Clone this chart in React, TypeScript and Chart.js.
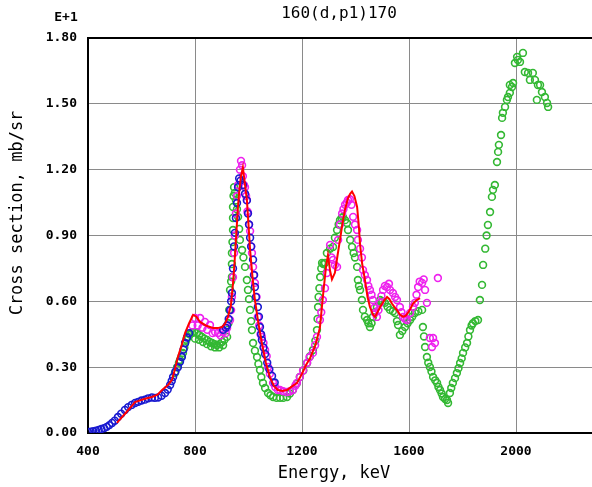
import React, { useEffect, useRef } from "react";
import { Chart, registerables } from "chart.js";

Chart.register(...registerables);

const chartTitle = "160(d,p1)170";
const xAxisTitle = "Energy, keV";
const yAxisTitle = "Cross section, mb/sr";
const yExponent = "E+1";
const xTickValues = [400, 800, 1200, 1600, 2000];
const yTickValues = [0, 0.3, 0.6, 0.9, 1.2, 1.5, 1.8];

// [energy keV, cross section (x10 mb/sr)]
const redCurve: [number, number][] = [
  [508, 0.046], [540, 0.09], [576, 0.141], [610, 0.155], [639, 0.164], [660, 0.175], [677, 0.196],
  [700, 0.22], [714, 0.242], [725, 0.29], [736, 0.346], [750, 0.4], [763, 0.456], [778, 0.5],
  [793, 0.538], [805, 0.53], [819, 0.506], [840, 0.49], [867, 0.479], [885, 0.478], [901, 0.483],
  [913, 0.5], [923, 0.529], [934, 0.58], [942, 0.68], [948, 0.78], [954, 0.9], [960, 1.02],
  [966, 1.11], [972, 1.17], [979, 1.21], [985, 1.15], [994, 1.062], [1000, 0.95], [1006, 0.834],
  [1015, 0.71], [1024, 0.606], [1037, 0.5], [1050, 0.41], [1065, 0.32], [1080, 0.255],
  [1095, 0.215], [1110, 0.196], [1127, 0.192], [1144, 0.196], [1160, 0.21], [1181, 0.228],
  [1200, 0.27], [1215, 0.31], [1230, 0.34], [1250, 0.4], [1267, 0.48], [1278, 0.62], [1290, 0.76],
  [1297, 0.81], [1305, 0.74], [1312, 0.7], [1323, 0.73], [1333, 0.81], [1342, 0.88], [1352, 0.96],
  [1361, 1.02], [1372, 1.07], [1380, 1.09], [1387, 1.1], [1396, 1.08], [1406, 1.03], [1412, 0.95],
  [1417, 0.86], [1425, 0.77], [1435, 0.7], [1445, 0.62], [1454, 0.574], [1465, 0.54], [1473, 0.529],
  [1482, 0.55], [1492, 0.574], [1505, 0.6], [1518, 0.62], [1527, 0.61], [1536, 0.59], [1548, 0.57],
  [1555, 0.56], [1566, 0.54], [1578, 0.529], [1588, 0.535], [1596, 0.547], [1605, 0.565],
  [1615, 0.59], [1628, 0.605], [1641, 0.615],
];

const bluePoints: [number, number][] = [
  [400, 0.005], [410, 0.006], [420, 0.008], [430, 0.01], [440, 0.014], [450, 0.018], [460, 0.022],
  [470, 0.028], [480, 0.036], [490, 0.046], [500, 0.056], [512, 0.073], [524, 0.088], [538, 0.105],
  [550, 0.118], [563, 0.128], [576, 0.137], [588, 0.142], [600, 0.148], [613, 0.152], [625, 0.158],
  [639, 0.162], [650, 0.16], [662, 0.162], [675, 0.17], [688, 0.182], [698, 0.198], [707, 0.219],
  [713, 0.237], [718, 0.255], [727, 0.28], [736, 0.3], [744, 0.325], [751, 0.346], [757, 0.38],
  [763, 0.41], [770, 0.435], [778, 0.455],
  [905, 0.47], [915, 0.48], [920, 0.49], [926, 0.52], [931, 0.56], [935, 0.6], [938, 0.638],
  [942, 0.75], [946, 0.85], [949, 0.912], [953, 0.98], [957, 1.048], [961, 1.12], [965, 1.16],
  [970, 1.15], [979, 1.13], [987, 1.09], [994, 1.06], [998, 1.0], [1002, 0.95], [1006, 0.89],
  [1010, 0.85], [1017, 0.79], [1021, 0.72], [1024, 0.665], [1028, 0.62], [1035, 0.574], [1039, 0.53],
  [1043, 0.483], [1047, 0.45], [1050, 0.424], [1056, 0.39], [1062, 0.36], [1070, 0.32], [1078, 0.29],
  [1088, 0.26], [1098, 0.23],
];

const magentaPoints: [number, number][] = [
  [790, 0.49], [800, 0.524], [810, 0.49], [819, 0.524], [828, 0.48], [837, 0.506], [846, 0.47],
  [856, 0.492], [866, 0.455], [875, 0.46], [886, 0.456], [895, 0.445], [905, 0.46], [915, 0.455],
  [920, 0.478], [931, 0.515], [935, 0.56], [938, 0.62], [942, 0.71], [946, 0.82], [949, 0.9],
  [953, 1.0], [957, 1.08], [961, 1.13], [968, 1.2], [972, 1.24], [976, 1.22], [979, 1.17],
  [983, 1.13], [987, 1.12], [991, 1.08], [994, 1.062], [996, 1.01], [998, 1.003], [1002, 0.95],
  [1006, 0.92], [1010, 0.85], [1013, 0.82], [1017, 0.757], [1020, 0.72], [1024, 0.684], [1030, 0.62],
  [1035, 0.529], [1040, 0.49], [1045, 0.45], [1050, 0.438], [1056, 0.41], [1062, 0.378], [1068, 0.35],
  [1073, 0.301], [1080, 0.27], [1092, 0.228], [1100, 0.21], [1110, 0.196], [1118, 0.196], [1130, 0.19],
  [1144, 0.187], [1155, 0.19], [1166, 0.196], [1175, 0.215], [1181, 0.228], [1192, 0.255],
  [1204, 0.285], [1219, 0.319], [1228, 0.345], [1241, 0.365], [1249, 0.4], [1256, 0.438],
  [1267, 0.515], [1272, 0.55], [1278, 0.606], [1286, 0.66], [1293, 0.729], [1305, 0.857],
  [1310, 0.8], [1316, 0.789], [1323, 0.766], [1331, 0.757], [1335, 0.88], [1342, 0.95], [1350, 1.0],
  [1355, 1.02], [1361, 1.04], [1368, 1.05], [1372, 1.062], [1379, 1.065], [1385, 1.04], [1391, 0.985],
  [1398, 0.95], [1406, 0.925], [1409, 0.88], [1417, 0.84], [1424, 0.8], [1428, 0.743], [1435, 0.72],
  [1443, 0.697], [1448, 0.67], [1454, 0.652], [1460, 0.63], [1465, 0.606], [1470, 0.57],
  [1473, 0.547], [1480, 0.529], [1486, 0.56], [1492, 0.593], [1497, 0.625], [1503, 0.652],
  [1510, 0.67], [1518, 0.665], [1525, 0.68], [1529, 0.652], [1540, 0.638], [1548, 0.62],
  [1555, 0.606], [1566, 0.574], [1572, 0.55], [1578, 0.529], [1585, 0.52], [1592, 0.515],
  [1604, 0.547], [1615, 0.575], [1622, 0.593], [1628, 0.63], [1634, 0.665], [1640, 0.69],
  [1649, 0.684], [1655, 0.7], [1660, 0.652], [1667, 0.593], [1678, 0.433], [1686, 0.392],
  [1690, 0.433], [1697, 0.41], [1708, 0.706],
];

const greenPoints: [number, number][] = [
  [725, 0.273], [733, 0.3], [740, 0.32], [744, 0.333], [750, 0.35], [755, 0.365], [760, 0.39],
  [763, 0.41], [768, 0.425], [774, 0.438], [781, 0.45], [789, 0.456], [798, 0.46], [800, 0.43],
  [807, 0.456], [815, 0.425], [816, 0.447], [826, 0.438], [830, 0.415], [835, 0.43], [845, 0.424],
  [845, 0.405], [855, 0.415], [860, 0.395], [864, 0.41], [873, 0.405], [875, 0.39], [882, 0.401],
  [890, 0.39], [892, 0.405], [901, 0.415], [905, 0.4], [910, 0.425], [920, 0.438], [925, 0.5],
  [928, 0.561], [931, 0.652], [935, 0.69], [938, 0.711], [938, 0.77], [938, 0.82], [940, 0.87],
  [942, 0.925], [942, 0.98], [942, 1.03], [944, 1.08], [946, 1.12], [949, 1.094], [953, 1.06],
  [957, 1.02], [961, 0.985], [965, 0.93], [968, 0.88], [976, 0.834], [981, 0.8], [987, 0.757],
  [994, 0.697], [998, 0.652], [1002, 0.61], [1006, 0.561], [1010, 0.51], [1013, 0.469], [1017, 0.41],
  [1024, 0.375], [1032, 0.346], [1037, 0.315], [1043, 0.287], [1048, 0.255], [1054, 0.228],
  [1062, 0.205], [1073, 0.182], [1082, 0.172], [1092, 0.164], [1105, 0.16], [1118, 0.16],
  [1130, 0.16], [1144, 0.164], [1155, 0.18], [1166, 0.196], [1180, 0.225], [1192, 0.255],
  [1205, 0.285], [1219, 0.319], [1230, 0.35], [1241, 0.378], [1250, 0.42], [1256, 0.469],
  [1258, 0.52], [1260, 0.574], [1262, 0.62], [1265, 0.66], [1268, 0.711], [1272, 0.75],
  [1275, 0.775], [1280, 0.77], [1286, 0.775], [1293, 0.82], [1305, 0.84], [1316, 0.848],
  [1323, 0.89], [1331, 0.925], [1337, 0.95], [1342, 0.97], [1348, 0.98], [1353, 0.985],
  [1361, 0.97], [1368, 0.957], [1372, 0.925], [1380, 0.88], [1387, 0.848], [1393, 0.82],
  [1398, 0.8], [1406, 0.757], [1409, 0.697], [1413, 0.67], [1417, 0.652], [1424, 0.606],
  [1428, 0.561], [1435, 0.53], [1443, 0.515], [1448, 0.5], [1454, 0.483], [1460, 0.5], [1465, 0.529],
  [1472, 0.55], [1480, 0.574], [1492, 0.606], [1500, 0.6], [1510, 0.593], [1520, 0.575],
  [1529, 0.561], [1540, 0.555], [1548, 0.547], [1555, 0.51], [1559, 0.492], [1566, 0.447],
  [1575, 0.465], [1585, 0.483], [1595, 0.5], [1604, 0.515], [1612, 0.53], [1622, 0.547],
  [1635, 0.555], [1649, 0.561], [1652, 0.483], [1656, 0.44], [1660, 0.392], [1667, 0.346],
  [1672, 0.32], [1678, 0.301], [1684, 0.28], [1690, 0.255], [1698, 0.24], [1705, 0.228],
  [1710, 0.21], [1716, 0.196], [1722, 0.18], [1727, 0.164], [1735, 0.155], [1742, 0.15],
  [1746, 0.137], [1753, 0.182], [1758, 0.205], [1764, 0.228], [1772, 0.25], [1779, 0.273],
  [1785, 0.295], [1791, 0.319], [1797, 0.34], [1802, 0.365], [1810, 0.39], [1817, 0.41],
  [1822, 0.44], [1828, 0.469], [1834, 0.49], [1839, 0.5], [1848, 0.51], [1858, 0.515],
  [1865, 0.606], [1873, 0.675], [1877, 0.766], [1885, 0.84], [1890, 0.9], [1895, 0.948],
  [1903, 1.007], [1910, 1.076], [1914, 1.108], [1921, 1.13], [1929, 1.235], [1933, 1.281],
  [1936, 1.313], [1944, 1.358], [1948, 1.436], [1951, 1.459], [1959, 1.486], [1966, 1.518],
  [1970, 1.531], [1977, 1.55], [1977, 1.586], [1985, 1.577], [1989, 1.595], [1996, 1.686],
  [2004, 1.714], [2007, 1.7], [2015, 1.691], [2026, 1.732], [2033, 1.645], [2045, 1.641],
  [2052, 1.609], [2063, 1.641], [2071, 1.609], [2078, 1.518], [2082, 1.586], [2090, 1.586],
  [2097, 1.554], [2108, 1.531], [2116, 1.504], [2120, 1.486],
];

const MONO = '"DejaVu Sans Mono", "Liberation Mono", monospace';

const toXY = (arr: [number, number][]) => arr.map(([x, y]) => ({ x, y }));

const textPlugin = {
  id: "extraTexts",
  afterDraw(chart: any) {
    const ctx = chart.ctx as CanvasRenderingContext2D;
    const a = chart.chartArea;
    ctx.save();
    ctx.strokeStyle = "#000";
    ctx.lineWidth = 2;
    ctx.beginPath();
    ctx.moveTo(a.left - 1, a.top);
    ctx.lineTo(chart.width, a.top);
    ctx.stroke();
    ctx.fillStyle = "#000";
    ctx.textAlign = "center";
    ctx.textBaseline = "middle";
    ctx.font = `16px ${MONO}`;
    ctx.fillText(chartTitle, 339, 14);
    ctx.font = `bold 13px ${MONO}`;
    ctx.fillText(yExponent, 66, 18);
    ctx.font = `17px ${MONO}`;
    ctx.fillText(xAxisTitle, 334, 474);
    ctx.translate(18, 213);
    ctx.rotate(-Math.PI / 2);
    ctx.fillText(yAxisTitle, 0, 0);
    ctx.restore();
  },
};

const pointDataset = (label: string, data: [number, number][], color: string) => ({
  label,
  data: toXY(data),
  showLine: false,
  pointStyle: "circle",
  pointRadius: 3.4,
  pointBorderWidth: 1.6,
  pointBorderColor: color,
  pointBackgroundColor: "rgba(0,0,0,0)",
  borderColor: color,
  backgroundColor: "rgba(0,0,0,0)",
});

export default function App() {
  const ref = useRef<HTMLCanvasElement | null>(null);
  useEffect(() => {
    if (!ref.current) return;
    const tickFont = { family: MONO, size: 13, weight: "bold" as const };
    const chart = new Chart(ref.current, {
      type: "scatter",
      data: {
        datasets: [
          {
            label: "fit",
            data: toXY(redCurve),
            showLine: true,
            borderColor: "#ff0000",
            backgroundColor: "#ff0000",
            borderWidth: 2,
            pointRadius: 0,
            tension: 0,
          } as any,
          pointDataset("blue", bluePoints, "#1a1ad0"),
          pointDataset("magenta", magentaPoints, "#ee22ee"),
          pointDataset("green", greenPoints, "#33b833"),
        ],
      },
      plugins: [textPlugin],
      options: {
        responsive: false,
        animation: false,
        events: [],
        layout: { padding: { left: 0, top: 38, right: 7, bottom: 0 } },
        plugins: {
          legend: { display: false },
          tooltip: { enabled: false },
          title: { display: false },
        },
        scales: {
          x: {
            type: "linear",
            min: 400,
            max: 2400,
            afterBuildTicks: (s: any) => {
              s.ticks = xTickValues.map((v) => ({ value: v }));
            },
            afterFit: (s: any) => {
              s.height = 54;
            },
            ticks: {
              font: tickFont,
              color: "#000",
              padding: 11,
              maxRotation: 0,
              autoSkip: false,
              callback: (v: any) => String(v),
            },
            grid: { color: "#8a8a8a", lineWidth: 1, drawTicks: false },
            border: { color: "#000", width: 2 },
          },
          y: {
            type: "linear",
            min: 0,
            max: 1.8,
            afterBuildTicks: (s: any) => {
              s.ticks = yTickValues.map((v) => ({ value: v }));
            },
            afterFit: (s: any) => {
              s.width = 88;
            },
            ticks: {
              font: tickFont,
              color: "#000",
              padding: 11,
              autoSkip: false,
              callback: (v: any) => Number(v).toFixed(2),
            },
            grid: { color: "#8a8a8a", lineWidth: 1, drawTicks: false },
            border: { color: "#000", width: 2 },
          },
        },
      } as any,
    });
    return () => chart.destroy();
  }, []);
  return (
    <div style={{ position: "fixed", left: 0, top: 0, width: 630, height: 487, background: "#fff" }}>
      <canvas ref={ref} width={630} height={487} style={{ display: "block" }} />
    </div>
  );
}
